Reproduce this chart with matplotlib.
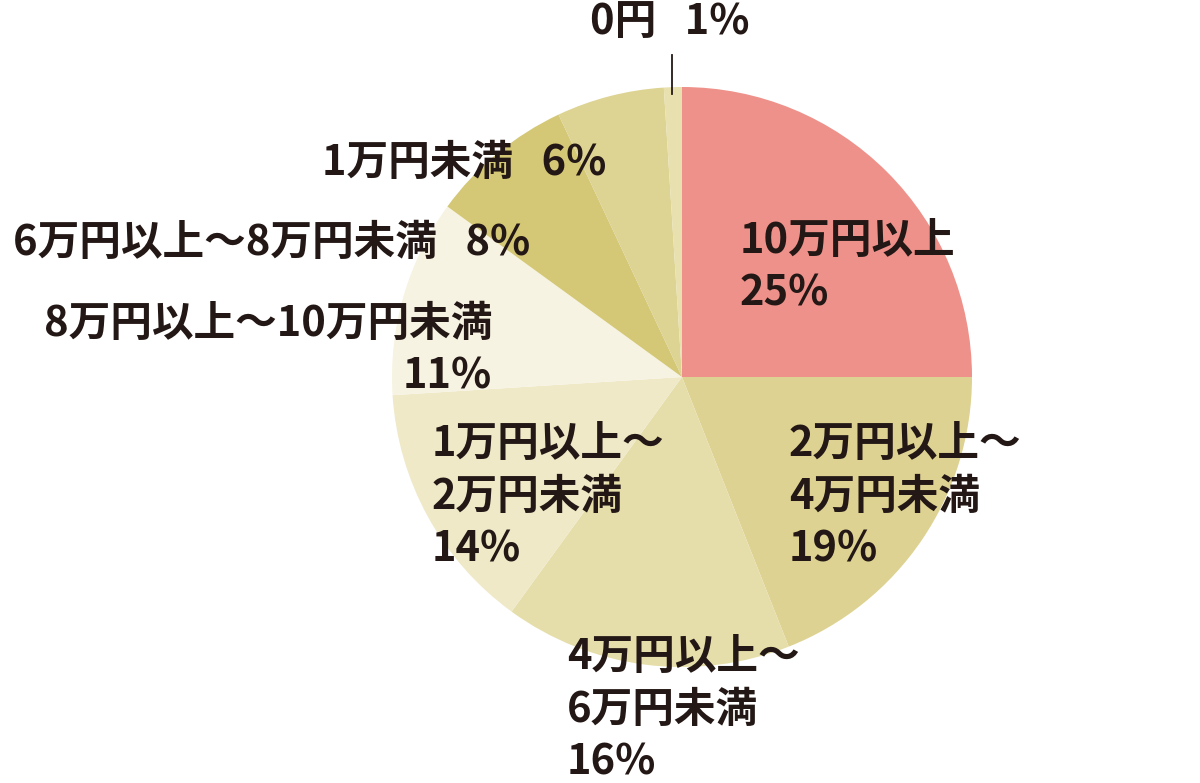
import matplotlib
matplotlib.use('Agg')
import matplotlib.pyplot as plt

plt.rcParams['font.family'] = ['Noto Sans CJK JP', 'DejaVu Sans']

# data (clockwise from 12 o'clock)
categories = ['10万円以上', '2万円以上〜\n4万円未満', '4万円以上〜\n6万円未満',
              '1万円以上〜\n2万円未満', '8万円以上〜10万円未満', '6万円以上〜8万円未満',
              '1万円未満', '0円']
shares = [25, 19, 16, 14, 11, 8, 6, 1]
colors = ['#EE918A', '#DDD291', '#E6DEAA', '#EFE9C8', '#F7F3E2', '#D4C775',
          '#DDD393', '#E8E0AE']

W, H = 1200, 783
fig = plt.figure(figsize=(W / 100, H / 100), dpi=100)
cx, cy, r = 682, 377, 290
ax = fig.add_axes([(cx - r) / W, (H - cy - r) / H, 2 * r / W, 2 * r / H])
ax.pie(shares, colors=colors, startangle=90, counterclock=False, radius=1,
       wedgeprops=dict(linewidth=0))
ax.set_xlim(-1, 1)
ax.set_ylim(-1, 1)
ax.set_aspect('equal')
ax.axis('off')

ink = '#231815'
fs = 30

def px(x, y, text, ha='left', va='top'):
    fig.text(x / W, 1 - y / H, text, ha=ha, va=va, fontsize=fs, color=ink,
             fontweight='bold', linespacing=1.32)

px(740, 220, categories[0] + '\n' + f'{shares[0]}%')
px(789, 423, categories[1] + '\n' + f'{shares[1]}%')
px(567, 636, categories[2] + '\n' + f'{shares[2]}%')
px(432, 423, categories[3] + '\n' + f'{shares[3]}%')
px(492, 303, categories[4] + '\n' + f'{shares[4]}%', ha='right')
px(530, 243, categories[5] + '   ' + f'{shares[5]}%', ha='right', va='center')
px(606, 163, categories[6] + '   ' + f'{shares[6]}%', ha='right', va='center')
px(750, 22, categories[7] + '   ' + f'{shares[7]}%', ha='right', va='center')

# leader line for the 0円 slice
fig.add_artist(plt.Line2D([672 / W, 672 / W], [1 - 55 / H, 1 - 94 / H],
                          color=ink, linewidth=1.3))

fig.savefig('out.png', dpi=100)
